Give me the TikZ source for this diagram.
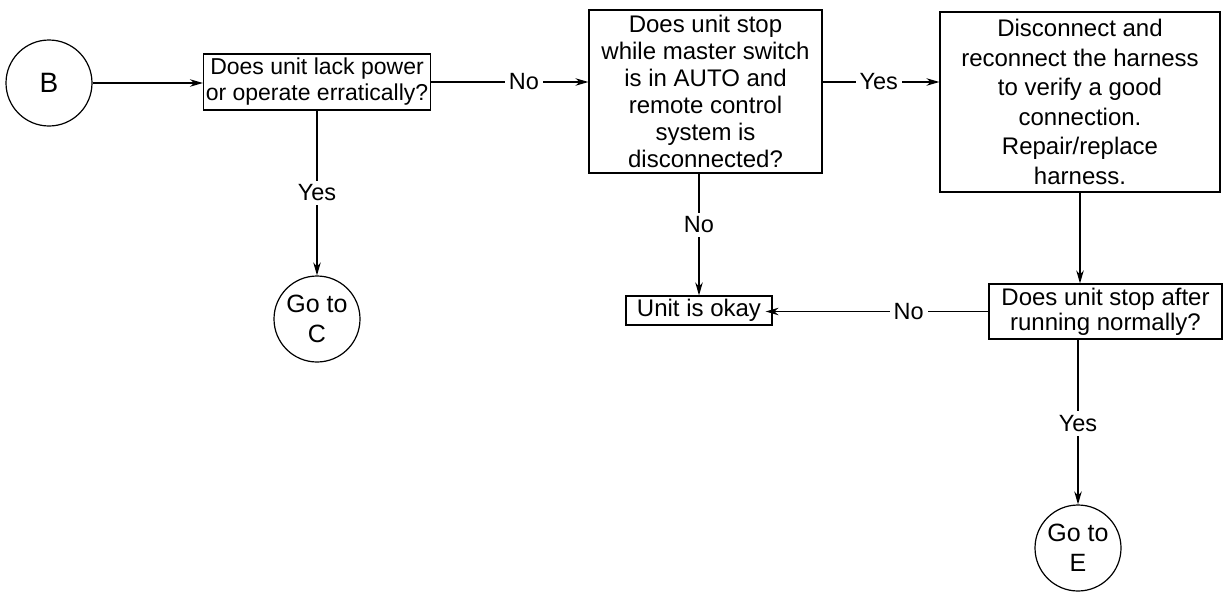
\documentclass[tikz,border=0pt]{standalone}
\usepackage{fontspec}
\setmainfont{Liberation Sans}
\usetikzlibrary{arrows.meta}
\begin{document}
\begin{tikzpicture}[x=1pt,y=-1pt,
  every node/.style={font=\fontsize{23.5}{27}\selectfont},
  box/.style={draw, line width=1.2pt, align=center, inner sep=0pt},
  circ/.style={draw, circle, line width=1.2pt, minimum size=86pt, inner sep=0pt, align=center},
  conn/.style={line width=1.2pt, -{Stealth[length=13pt,width=7.5pt]}},
  lab/.style={fill=white, inner sep=4pt, font=\fontsize{23.5}{27}\selectfont}]
\useasboundingbox (0,0) rectangle (1225,592);
\node[circ, font=\fontsize{28}{30}\selectfont] (B) at (49,83) {B};
\node[box, minimum width=227pt, minimum height=56pt, font=\fontsize{23}{26}\selectfont] (q1) at (317,82) {Does unit lack power\\or operate erratically?};
\node[box, minimum width=233pt, minimum height=163pt, font=\fontsize{24}{27}\selectfont] (q2) at (705.5,91.5) {Does unit stop\\while master switch\\is in AUTO and\\remote control\\system is\\disconnected?};
\node[box, minimum width=280pt, minimum height=180pt, font=\fontsize{24}{29.5}\selectfont] (q3) at (1080,102) {Disconnect and\\reconnect the harness\\to verify a good\\connection.\\Repair/replace\\harness.};
\node[box, minimum width=233pt, minimum height=55pt, font=\fontsize{24}{25}\selectfont] (q4) at (1105.5,311.5) {Does unit stop after\\running normally?};
\node[box, minimum width=146pt, minimum height=29pt, font=\fontsize{24}{26}\selectfont] (ok) at (699,310.5) {Unit is okay};
\node[circ, font=\fontsize{25}{30}\selectfont] (C) at (317,319) {Go to\\C};
\node[circ, font=\fontsize{25}{30}\selectfont] (E) at (1078,548) {Go to\\E};
\draw[conn] (B.east) -- (B.east -| q1.west);
\draw[conn] (q1.east) -- node[lab,pos=0.59]{No} (q1.east -| q2.west);
\draw[conn] (q2.east |- q1.east) -- node[lab,pos=0.48]{Yes} (q3.west |- q1.east);
\draw[conn] (q1.south -| C) -- node[lab,pos=0.5]{Yes} (C.north);
\draw[conn] (ok.north |- q2.south) -- node[lab,pos=0.42]{No} (ok.north);
\draw[conn] (q3.south) -- (q3.south |- q4.north);
\draw[conn, shorten >=-7pt] (q4.west) -- node[lab,pos=0.37]{No} (q4.west -| ok.east);
\draw[conn] (E.north |- q4.south) -- node[lab,pos=0.51]{Yes} (E.north);
\end{tikzpicture}
\end{document}
